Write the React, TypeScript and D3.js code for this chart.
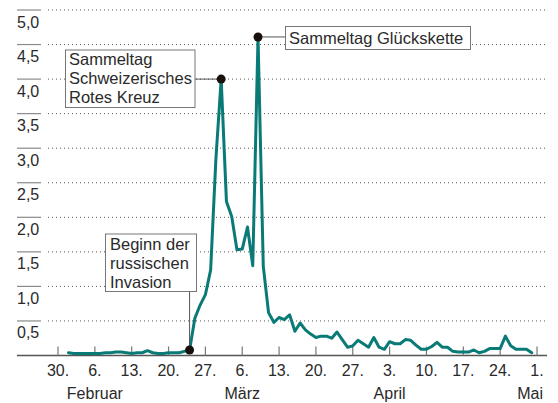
import * as d3 from "d3";

const width = 558;
const height = 403;

// daily values, 1 Feb – 30 Apr 2022
const startDate = "2022-02-01";
const febValues = [
  0.04, 0.03, 0.03, 0.03, 0.03, 0.03, 0.03, 0.04, 0.04, 0.05, 0.05, 0.04, 0.03, 0.04,
  0.04, 0.07, 0.04, 0.03, 0.03, 0.04, 0.04, 0.04, 0.06, 0.08, 0.54, 0.73, 0.88, 1.24,
];
const marValues = [
  2.85, 4.0, 2.23, 2.01, 1.53, 1.54, 1.86, 1.3, 4.61, 1.29, 0.62, 0.48, 0.55, 0.52, 0.59,
  0.35, 0.47, 0.37, 0.31, 0.26, 0.28, 0.28, 0.25, 0.34, 0.23, 0.12, 0.14, 0.22, 0.17, 0.12,
  0.26,
];
const aprValues = [
  0.12, 0.09, 0.2, 0.17, 0.17, 0.23, 0.22, 0.15, 0.09, 0.09, 0.13, 0.19, 0.12, 0.12, 0.06,
  0.05, 0.05, 0.05, 0.08, 0.04, 0.06, 0.1, 0.1, 0.1, 0.28, 0.14, 0.09, 0.09, 0.09, 0.04,
];

const yTicks = [0.5, 1, 1.5, 2, 2.5, 3, 3.5, 4, 4.5, 5];
const weekTicks = [
  "2022-01-30", "2022-02-06", "2022-02-13", "2022-02-20", "2022-02-27", "2022-03-06",
  "2022-03-13", "2022-03-20", "2022-03-27", "2022-04-03", "2022-04-10", "2022-04-17",
  "2022-04-24", "2022-05-01",
];
const months = [
  { label: "Februar", date: "2022-02-06" },
  { label: "März", date: "2022-03-06" },
  { label: "April", date: "2022-04-03" },
  { label: "Mai", date: "2022-05-01" },
];

const annotations = [
  { date: "2022-02-24", lines: ["Beginn der", "russischen", "Invasion"] },
  { date: "2022-03-02", lines: ["Sammeltag", "Schweizerisches", "Rotes Kreuz"] },
  { date: "2022-03-09", lines: ["Sammeltag Glückskette"] },
];

const parse = d3.timeParse("%Y-%m-%d");
const font = "'Liberation Sans', Arial, Helvetica, sans-serif";
const textColor = "#2a2a2a";

export default function App() {
  const start = parse(startDate)!;
  const values = [...febValues, ...marValues, ...aprValues];
  const data = values.map((v, i) => ({ date: d3.timeDay.offset(start, i), value: v }));

  const x = d3
    .scaleTime()
    .domain([parse("2022-01-30")!, parse("2022-05-01")!])
    .range([58, 537]);
  const y = d3.scaleLinear().domain([0, 5]).range([355.5, 10]);

  const line = d3
    .line<{ date: Date; value: number }>()
    .x((d) => x(d.date))
    .y((d) => y(d.value));

  const fmt = d3.format(".1f");
  const valueAt = (s: string) => {
    const t = parse(s)!.getTime();
    return data.find((d) => d.date.getTime() === t)!.value;
  };

  const pts = annotations.map((a) => ({
    ...a,
    px: x(parse(a.date)!),
    py: y(valueAt(a.date)),
  }));
  const [inv, srk, gk] = pts;

  return (
    <svg
      width={width}
      height={height}
      style={{ position: "absolute", left: 0, top: 0, background: "#fff" }}
      fontFamily={font}
    >
      {/* horizontal grid */}
      {yTicks.map((t) => (
        <g key={t}>
          <line x1={17} x2={41} y1={y(t)} y2={y(t)} stroke="#8a8a8a" strokeWidth={1.2} />
          <line
            x1={48}
            x2={547}
            y1={y(t)}
            y2={y(t)}
            stroke="#555"
            strokeWidth={1}
            strokeDasharray="1 3"
          />
          <text x={17} y={y(t) + 17.5} fontSize={16} fill={textColor}>
            {fmt(t).replace(".", ",")}
          </text>
        </g>
      ))}

      {/* x axis */}
      <line x1={17} x2={547} y1={y(0)} y2={y(0)} stroke="#555" strokeWidth={1.5} />
      {weekTicks.map((s) => {
        const d = parse(s)!;
        return (
          <g key={s}>
            <line x1={x(d)} x2={x(d)} y1={y(0) - 9} y2={y(0)} stroke="#777" strokeWidth={1.2} />
            <text x={x(d)} y={376} fontSize={16} fill={textColor} textAnchor="middle">
              {d3.timeFormat("%-d.")(d)}
            </text>
          </g>
        );
      })}
      {months.map((m, i) => {
        const last = i === months.length - 1;
        return (
          <text
            key={m.label}
            x={last ? 543 : x(parse(m.date)!)}
            y={399}
            fontSize={16}
            fill={textColor}
            textAnchor={last ? "end" : "middle"}
          >
            {m.label}
          </text>
        );
      })}

      {/* data line */}
      <path
        d={line(data) ?? ""}
        fill="none"
        stroke="#0a7a77"
        strokeWidth={3}
        strokeLinejoin="round"
        strokeLinecap="round"
      />

      {/* annotation: invasion */}
      <line x1={inv.px} x2={inv.px} y1={291.5} y2={inv.py} stroke="#555" strokeWidth={1} />
      <rect x={105.5} y={234} width={91} height={57.5} fill="#fff" stroke="#777" strokeWidth={1} />
      {inv.lines.map((l, i) => (
        <text key={l} x={110} y={250 + i * 19} fontSize={16.5} fill={textColor}>
          {l}
        </text>
      ))}

      {/* annotation: SRK */}
      <line x1={195} x2={srk.px} y1={srk.py} y2={srk.py} stroke="#555" strokeWidth={1} />
      <rect x={65.5} y={50} width={129.5} height={57.5} fill="#fff" stroke="#777" strokeWidth={1} />
      {srk.lines.map((l, i) => (
        <text key={l} x={69} y={65 + i * 19} fontSize={16.5} fill={textColor}>
          {l}
        </text>
      ))}

      {/* annotation: Glückskette */}
      <line x1={gk.px} x2={285.5} y1={gk.py} y2={gk.py} stroke="#555" strokeWidth={1} />
      <rect x={285.5} y={26.5} width={185} height={23} fill="#fff" stroke="#777" strokeWidth={1} />
      <text x={289} y={44} fontSize={16.5} fill={textColor}>
        {gk.lines[0]}
      </text>

      {pts.map((p) => (
        <circle key={p.date} cx={p.px} cy={p.py} r={4.5} fill="#1a100b" />
      ))}
    </svg>
  );
}
